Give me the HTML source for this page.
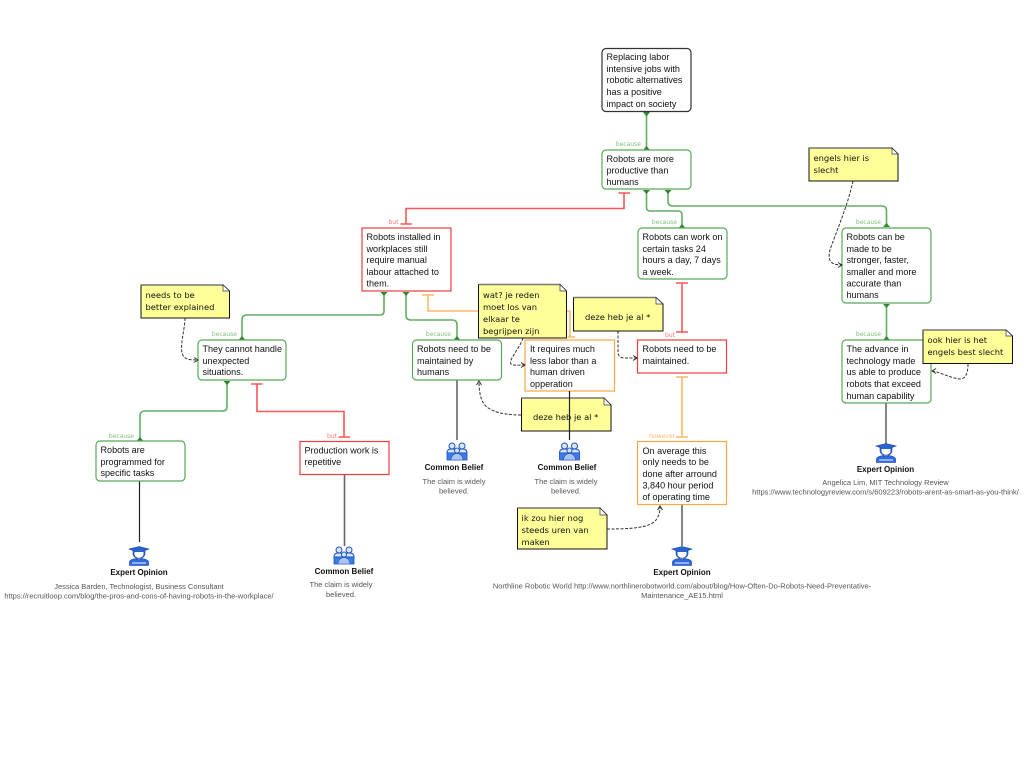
<!DOCTYPE html>
<html><head><meta charset="utf-8"><style>
html,body{margin:0;padding:0;background:#fff;width:1024px;height:768px;overflow:hidden}
svg{display:block}
.t{font:9.05px "Liberation Sans",sans-serif;fill:#111}
.n{font:8.35px "DejaVu Sans",sans-serif;fill:#111}
.l{font:6px "DejaVu Sans",sans-serif;text-anchor:end}
.h{font:bold 8px "Liberation Sans",sans-serif;fill:#111;text-anchor:middle}
.d{font:7.5px "Liberation Sans",sans-serif;fill:#555;text-anchor:middle}
.lk{fill:none;stroke-width:1.6}
.dash{fill:none;stroke:#333;stroke-width:1;stroke-dasharray:3 1.5}
.sn{fill:#ffff99;stroke:#111;stroke-width:1}
.tp{fill:none;stroke:#777;stroke-width:1.5}
.g{stroke:#62ae62}.r{stroke:#f55}.o{stroke:#ffb865}
.k1{stroke:#222;stroke-width:1.2}.k2{stroke:#666;stroke-width:1.6}
</style></head><body>
<svg width="1024" height="768" viewBox="0 0 1024 768" xmlns="http://www.w3.org/2000/svg">
<defs>
<g id="ex"><path d="M-10-8 0-10.500 10-8 6-6.500V-3.500C6-.5 3 1.500 0 1.500S-6-.5-6-3.500V-6.500Z" fill="#2a62d0" stroke="#123a9a" stroke-width=".6"/><path d="M-4.500-5H4.500V-3C4.500-.5 2 .8 0 .8S-4.500-.5-4.500-3Z" fill="#fff"/><path d="M-9.500 8.500V5C-9.500 3-6 2-3 1.500C-1 3 1 3 3 1.500C6 2 9.500 3 9.500 5V8.500Z" fill="#2f6ae0" stroke="#123a9a" stroke-width=".6"/><rect x="-7" y="5" width="14" height="2" fill="#8fb2f0"/></g>
<g id="cb"><g fill="#d8e6fb" stroke="#1c52c0" stroke-width="1"><circle cx="-5" cy="-6" r="3"/><circle cx="5" cy="-6" r="3"/><path d="M-10 1C-10-3-7-3-5-3S0-3 0 1ZM0 1C0-3 3-3 5-3S10-3 10 1Z"/><circle cx="0" cy="-1.500" r="2.500"/></g><path d="M-10 1H10V8H-10Z" fill="#3f7be6" stroke="#1c52c0" stroke-width=".8"/><path d="M-6 8C-6 3-2 1.500 0 1.500S6 3 6 8Z" fill="#a9c5f4" stroke="#1c52c0" stroke-width=".6"/></g>
</defs>

<!-- evidence lines -->
<path class="lk k1" d="M139.500 481V542"/><path class="lk k2" d="M344.500 475V546"/><path class="lk k2" d="M457 380V440"/><path class="lk k2" d="M682 505V546"/><path class="lk k2" d="M886 403V444"/>

<!-- green links -->
<path class="lk g" d="M646.500 112V150"/>
<path class="lk g" d="M646.500 190V207Q646.500 211 650 211H678Q682 211 682 215V228"/>
<path class="lk g" d="M668 190V201Q668 206 673 206H882Q886.500 206 886.500 211V227"/>
<path class="lk g" d="M886.500 304V340"/>
<path class="lk g" d="M384 292V311Q384 315 380 315H247Q242 315 242 320V340"/>
<path class="lk g" d="M406 292V315Q406 320 411 320H452Q457 320 457 325V340"/>
<path class="lk g" d="M227 381V407Q227 411 222 411H145Q140 411 140 416V441"/>
<g fill="#2c8a2c">
<path d="M643 112H650L646.500 116.500ZM643 150H650L646.500 146ZM642.800 190H650L646.500 194ZM664.500 190H671.500L668 194ZM678.500 228H685.500L682 224ZM883 227H890L886.500 223ZM883 304H890L886.500 308ZM883 340H890L886.500 336ZM380.500 292H387.500L384 296ZM402.500 292H409.500L406 296ZM238.500 340H245.500L242 336ZM453.500 340H460.500L457 336ZM223.500 381H230.500L227 385ZM136.500 441H143.500L140 437Z"/>
</g>

<!-- red links -->
<path class="lk r" d="M624 193V208.500H406V224"/><path class="lk r" d="M618.500 193H630M400.500 224H412"/>
<path class="lk r" d="M682 283V332M676 283H688M676 332H688"/>
<path class="lk r" d="M257 384V411.500H344V437M251 384H262.500M338.500 437H350"/>

<!-- orange links -->
<path class="lk o" d="M428 295V311H478M422 295H434"/>
<path class="lk o" d="M567 311H570V337M568 337H575"/>
<path class="lk o" d="M682 377V437M676 377H688M676 437H688"/>

<!-- nodes -->
<g fill="#fff" stroke-width="1.200">
<rect x="602" y="48.500" width="89" height="63" rx="4" stroke="#333"/>
<rect x="602" y="150" width="89" height="39" rx="4" stroke="#5aa85a"/>
<rect x="638" y="228" width="89" height="51" rx="4" stroke="#5aa85a"/>
<rect x="842" y="228" width="89" height="75" rx="4" stroke="#5aa85a"/>
<rect x="842" y="340" width="89" height="63" rx="4" stroke="#5aa85a"/>
<rect x="198" y="340" width="88" height="40" rx="4" stroke="#5aa85a"/>
<rect x="412.500" y="340" width="89" height="40" rx="4" stroke="#5aa85a"/>
<rect x="96" y="441" width="89" height="40" rx="4" stroke="#5aa85a"/>
<rect x="362" y="228" width="89" height="63" stroke="#ee3c3c"/>
<rect x="637.500" y="340" width="89" height="33" stroke="#ee3c3c"/>
<rect x="300" y="441.500" width="89" height="33" stroke="#ee3c3c"/>
<rect x="525" y="340" width="89.500" height="51" stroke="#ffa640"/>
<rect x="637.500" y="441.500" width="89" height="63" stroke="#ffa640"/>
</g>

<!-- node text -->
<g class="t">
<text x="606.500" y="60">Replacing labor</text><text x="606.500" y="72">intensive jobs with</text><text x="606.500" y="83">robotic alternatives</text><text x="606.500" y="95">has a positive</text><text x="606.500" y="107">impact on society</text>
<text x="606.500" y="162">Robots are more</text><text x="606.500" y="173.500">productive than</text><text x="606.500" y="185">humans</text>
<text x="642.500" y="240">Robots can work on</text><text x="642.500" y="252">certain tasks 24</text><text x="642.500" y="263">hours a day, 7 days</text><text x="642.500" y="275">a week.</text>
<text x="846.500" y="240">Robots can be</text><text x="846.500" y="252">made to be</text><text x="846.500" y="263">stronger, faster,</text><text x="846.500" y="275">smaller and more</text><text x="846.500" y="286.500">accurate than</text><text x="846.500" y="298">humans</text>
<text x="846.500" y="352">The advance in</text><text x="846.500" y="364">technology made</text><text x="846.500" y="375">us able to produce</text><text x="846.500" y="387">robots that exceed</text><text x="846.500" y="399">human capability</text>
<text x="366.500" y="240">Robots installed in</text><text x="366.500" y="252">workplaces still</text><text x="366.500" y="263">require manual</text><text x="366.500" y="275">labour attached to</text><text x="366.500" y="286.500">them.</text>
<text x="202.500" y="352">They cannot handle</text><text x="202.500" y="364">unexpected</text><text x="202.500" y="375">situations.</text>
<text x="417" y="352">Robots need to be</text><text x="417" y="364">maintained by</text><text x="417" y="375">humans</text>
<text x="530" y="352">It requires much</text><text x="530" y="364">less labor than a</text><text x="530" y="375">human driven</text><text x="530" y="387">opperation</text>
<text x="642.500" y="352">Robots need to be</text><text x="642.500" y="364">maintained.</text>
<text x="642.500" y="454">On average this</text><text x="642.500" y="465">only needs to be</text><text x="642.500" y="477">done after arround</text><text x="642.500" y="488.500">3,840 hour period</text><text x="642.500" y="500">of operating time</text>
<text x="100.500" y="453">Robots are</text><text x="100.500" y="465">programmed for</text><text x="100.500" y="476">specific tasks</text>
<text x="304.500" y="453.500">Production work is</text><text x="304.500" y="465">repetitive</text>
</g>

<!-- link labels -->
<g class="l">
<text x="641" y="146" fill="#7cc07c">because</text><text x="677" y="224" fill="#7cc07c">because</text><text x="881" y="224" fill="#7cc07c">because</text><text x="881" y="336" fill="#7cc07c">because</text><text x="237" y="336" fill="#7cc07c">because</text><text x="451" y="336" fill="#7cc07c">because</text><text x="134" y="438" fill="#7cc07c">because</text>
<text x="398.500" y="224" fill="#f77">but</text><text x="675" y="337" fill="#f77">but</text><text x="337" y="438" fill="#f77">but</text><text x="675" y="438" fill="#ffb865">however</text>
</g>

<!-- dashed note links -->
<path class="dash" d="M185 318C185 330 178 350 184 357C187 360 193 360 198 360"/>
<path class="dash" d="M523 338C519 350 508 360 511 364C514 366 518 365 525 365"/>
<path class="dash" d="M618 331V352Q618 358 625 358H637"/>
<path class="dash" d="M521 415C505 415 490 412 484 404C480 398 479 390 479 381"/>
<path class="dash" d="M607 529C630 529 650 528 656 520C659 516 660 512 660 506"/>
<path class="dash" d="M853 181C848 205 835 235 830 250C827 262 832 265 842 265"/>
<path class="dash" d="M968 364C968 372 966 379 960 379C950 378 940 372 932 371"/>
<path d="M194 357.500 198 360 194 362.500M521 362.500 525 365 521 367.500M633 355.500 637 358 633 360.500M476.500 385 479 381 481.500 385M657.500 510 660 506 662.500 510M838 262.500 842 265 838 267.500M936 368.500 932 371 936 373.500" fill="none" stroke="#333" stroke-width="1"/>

<!-- notes -->
<path class="sn" d="M141 285H223L229.500 291V318H141Z"/><path class="tp" d="M141 285H223"/><path d="M223 285V291H229.500Z" fill="#fff" stroke="#333" stroke-width=".7"/>
<path class="sn" d="M478.500 284.500H560L566.500 291V338H478.500Z"/><path class="tp" d="M478.500 284.500H560"/><path d="M560 284.500V291H566.500Z" fill="#fff" stroke="#333" stroke-width=".7"/>
<path class="sn" d="M573.500 297.500H656L663 304V331H573.500Z"/><path class="tp" d="M573.500 297.500H656"/><path d="M656 297.500V304H663Z" fill="#fff" stroke="#333" stroke-width=".7"/>
<path class="sn" d="M521.500 398H604L611 405V431H521.500Z"/><path class="tp" d="M521.500 398H604"/><path d="M604 398V405H611Z" fill="#fff" stroke="#333" stroke-width=".7"/>
<path class="sn" d="M517.500 508H600L607 515V549H517.500Z"/><path class="tp" d="M517.500 508H600"/><path d="M600 508V515H607Z" fill="#fff" stroke="#333" stroke-width=".7"/>
<path class="sn" d="M809 148H892L898 154V181H809Z"/><path class="tp" d="M809 148H892"/><path d="M892 148V154H898Z" fill="#fff" stroke="#333" stroke-width=".7"/>
<path class="sn" d="M923 330H1006L1012.500 336V363.500H923Z"/><path class="tp" d="M923 330H1006"/><path d="M1006 330V336H1012.500Z" fill="#fff" stroke="#333" stroke-width=".7"/>
<path class="lk k1" d="M569.500 391V440"/>
<g class="n">
<text x="145.500" y="298">needs to be</text><text x="145.500" y="310">better explained</text>
<text x="483" y="298">wat? je reden</text><text x="483" y="310">moet los van</text><text x="483" y="322">elkaar te</text><text x="483" y="334">begrijpen zijn</text>
<text x="585" y="320">deze heb je al *</text><text x="533" y="420">deze heb je al *</text>
<text x="521.500" y="521">ik zou hier nog</text><text x="521.500" y="533">steeds uren van</text><text x="521.500" y="545">maken</text>
<text x="813.500" y="161">engels hier is</text><text x="813.500" y="173">slecht</text>
<text x="927.500" y="343">ook hier is het</text><text x="927.500" y="355">engels best slecht</text>
</g>

<!-- icons -->
<use href="#ex" x="139" y="557"/><use href="#ex" x="682" y="557"/><use href="#ex" x="886" y="454"/>
<use href="#cb" x="344" y="556"/><use href="#cb" x="457" y="452"/><use href="#cb" x="569.500" y="452"/>

<!-- evidence text -->
<text class="h" x="139" y="575">Expert Opinion</text>
<text class="d" x="139" y="589">Jessica Barden, Technologist, Business Consultant</text>
<text class="d" x="139" y="598.500">https://recruitloop.com/blog/the-pros-and-cons-of-having-robots-in-the-workplace/</text>
<text class="h" x="344" y="574">Common Belief</text>
<text class="d" x="341" y="587">The claim is widely</text><text class="d" x="341" y="597">believed.</text>
<text class="h" x="454" y="470">Common Belief</text>
<text class="d" x="454" y="484">The claim is widely</text><text class="d" x="454" y="493.500">believed.</text>
<text class="h" x="567" y="470">Common Belief</text>
<text class="d" x="566" y="484">The claim is widely</text><text class="d" x="566" y="493.500">believed.</text>
<text class="h" x="682" y="575">Expert Opinion</text>
<text class="d" x="682" y="588.500">Northline Robotic World http://www.northlinerobotworld.com/about/blog/How-Often-Do-Robots-Need-Preventative-</text>
<text class="d" x="682" y="598">Maintenance_AE15.html</text>
<text class="h" x="885.500" y="472">Expert Opinion</text>
<text class="d" x="885.500" y="485">Angelica Lim, MIT Technology Review</text>
<text class="d" x="885.500" y="494.500">https://www.technologyreview.com/s/609223/robots-arent-as-smart-as-you-think/</text>
</svg>
</body></html>
